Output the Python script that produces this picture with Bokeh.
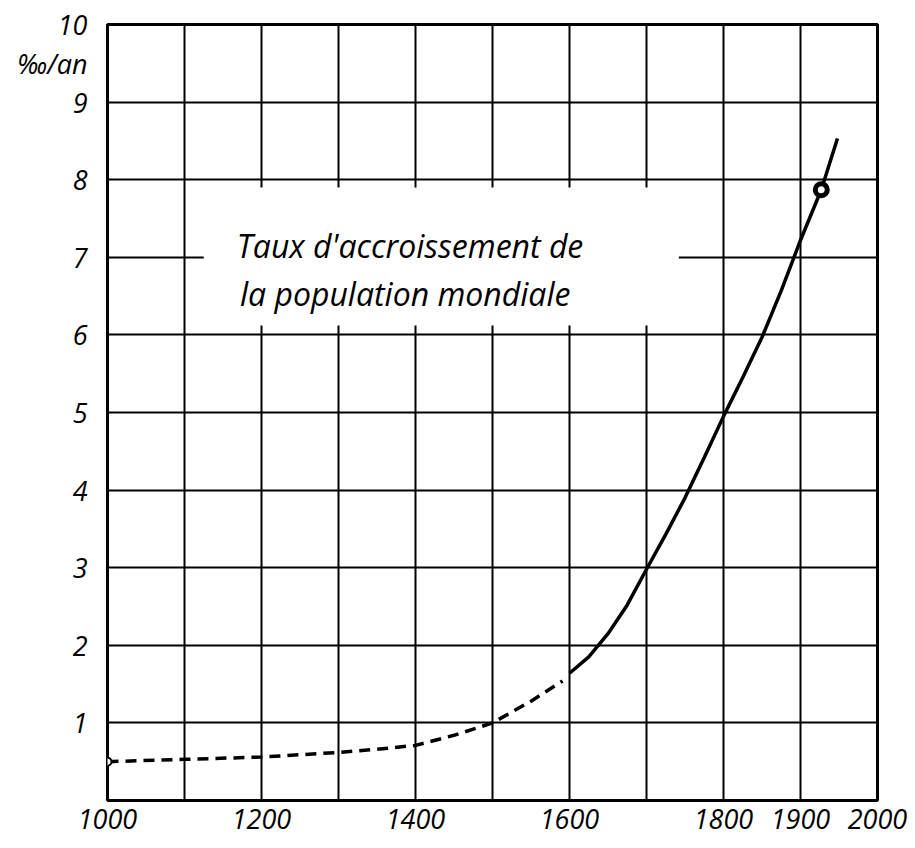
from bokeh.plotting import figure
from bokeh.models import Range1d, FixedTicker, Label, BoxAnnotation, ColumnDataSource
from bokeh.embed import file_html
from bokeh.resources import INLINE

# --- data ---
years_dashed = [1000, 1100, 1200, 1300, 1350, 1400, 1450, 1500, 1550, 1591]
rate_dashed = [0.50, 0.53, 0.56, 0.62, 0.66, 0.71, 0.84, 1.00, 1.28, 1.54]
years_solid = [1600, 1625, 1650, 1675, 1700, 1725, 1750, 1775, 1800, 1825, 1850, 1875, 1900, 1927, 1948]
rate_solid = [1.64, 1.85, 2.15, 2.52, 2.98, 3.43, 3.90, 4.42, 4.95, 5.45, 5.97, 6.57, 7.22, 7.87, 8.53]
start_year = [1000]
start_rate = [0.50]
mark_year = [1927]
mark_rate = [7.87]

x_tick_years = [1000, 1200, 1400, 1600, 1800, 1900, 2000]
grid_years = list(range(1000, 2001, 100))
grid_rates = list(range(0, 11))
y_ticks = list(range(1, 11))
unit_label = "‰/an"
unit_pos = 9.5
title_lines = ["Taux d'accroissement de", "la population mondiale"]

FONT = "Open Sans"

p = figure(width=907, height=848, output_backend="svg", toolbar_location=None,
           x_range=Range1d(1000, 2000), y_range=Range1d(0, 10),
           min_border_left=107, min_border_right=30, min_border_top=24, min_border_bottom=48)

p.outline_line_color = "black"
p.outline_line_width = 3
p.background_fill_color = "white"
p.border_fill_color = "white"

# grid
p.xgrid.ticker = FixedTicker(ticks=grid_years)
p.ygrid.ticker = FixedTicker(ticks=grid_rates)
for g in (p.xgrid, p.ygrid):
    g.grid_line_color = "black"
    g.grid_line_width = 2
    g.grid_line_alpha = 1.0

# axes
p.xaxis.ticker = FixedTicker(ticks=x_tick_years)
p.yaxis.ticker = FixedTicker(ticks=y_ticks + [unit_pos])
p.yaxis.major_label_overrides = {unit_pos: unit_label}
for ax in (p.xaxis, p.yaxis):
    ax.axis_line_color = None
    ax.major_tick_line_color = None
    ax.minor_tick_line_color = None
    ax.major_tick_out = 0
    ax.major_tick_in = 0
    ax.minor_tick_out = 0
    ax.major_label_text_font = FONT
    ax.major_label_text_font_style = "italic"
    ax.major_label_text_font_size = "27px"
    ax.major_label_text_color = "black"
p.xaxis.major_label_standoff = 8
p.yaxis.major_label_standoff = 20

# white label box
box = BoxAnnotation(left=1125, right=1742, bottom=6.12, top=7.9,
                    fill_color="white", fill_alpha=1.0, line_color=None)
p.add_layout(box)

# curves
src_d = ColumnDataSource(dict(x=years_dashed, y=rate_dashed))
src_s = ColumnDataSource(dict(x=years_solid, y=rate_solid))
p.line("x", "y", source=src_d, line_color="black", line_width=3.5, line_dash="11 7")
p.line("x", "y", source=src_s, line_color="black", line_width=3.5)
p.scatter(start_year, start_rate, size=8, fill_color="white", line_color="black", line_width=2)
p.scatter(mark_year, mark_rate, size=12, fill_color="white", line_color="black", line_width=5)

# texts
p.add_layout(Label(x=1168, y=7.15, text=title_lines[0], text_font=FONT,
                   text_font_style="italic", text_font_size="32px",
                   text_baseline="alphabetic", text_color="black"))
p.add_layout(Label(x=1172, y=6.53, text=title_lines[1], text_font=FONT,
                   text_font_style="italic", text_font_size="32px",
                   text_baseline="alphabetic", text_color="black"))

open("out.html", "w").write(file_html(p, INLINE))
